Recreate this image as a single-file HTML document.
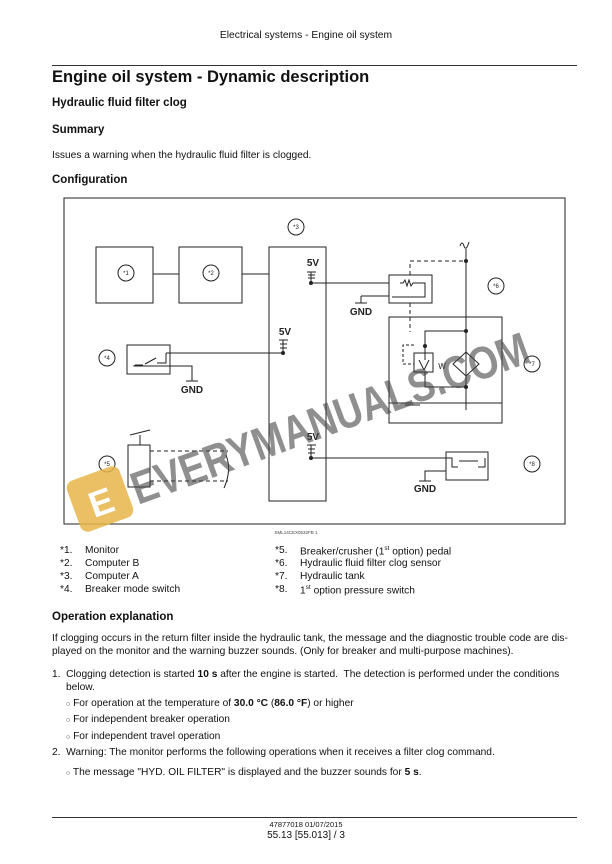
<!DOCTYPE html>
<html><head><meta charset="utf-8"><style>
body{margin:0;background:#fff;}
#p{position:relative;width:612px;height:864px;font-family:"Liberation Sans",Arial,sans-serif;color:#111;overflow:hidden}
.t{position:absolute;white-space:nowrap;font-size:10.2px}
.b{font-weight:bold}
</style></head><body><div id="p">
<div class="t" style="left:0;width:612px;text-align:center;top:30px;font-size:10.3px">Electrical systems - Engine oil system</div>
<div style="position:absolute;left:52px;top:65px;width:525px;height:1px;background:#333"></div>
<div class="t b" style="left:52px;top:68px;font-size:16.5px">Engine oil system - Dynamic description</div>
<div class="t b" style="left:52px;top:97px;font-size:11.5px">Hydraulic fluid filter clog</div>
<div class="t b" style="left:52px;top:124px;font-size:11.5px">Summary</div>
<div class="t" style="left:52px;top:150px">Issues a warning when the hydraulic fluid filter is clogged.</div>
<div class="t b" style="left:52px;top:174px;font-size:11.5px">Configuration</div>

<svg style="position:absolute;left:0;top:0" width="612" height="864" font-family="Liberation Sans, Arial, sans-serif">
<g fill="none" stroke="#222" stroke-width="1">
<rect x="64" y="198" width="501" height="326"/>
<rect x="96" y="247" width="57" height="56"/>
<rect x="179" y="247" width="63" height="56"/>
<rect x="269" y="247" width="57" height="254"/>
<line x1="153" y1="274" x2="179" y2="274"/><line x1="242" y1="274" x2="269" y2="274"/>
<circle cx="126" cy="273" r="8"/><circle cx="211" cy="273" r="8"/><circle cx="296" cy="227" r="8"/>
<circle cx="107" cy="358" r="8"/><circle cx="107" cy="464" r="8"/>
<circle cx="496" cy="286" r="8"/><circle cx="532" cy="364" r="8"/><circle cx="532" cy="464" r="8"/>
<line x1="311" y1="272" x2="311" y2="283"/>
<line x1="307" y1="272" x2="316" y2="272"/><line x1="308" y1="275" x2="315" y2="275"/><line x1="308" y1="278" x2="315" y2="278"/>
<line x1="311" y1="283" x2="389" y2="283"/>
<rect x="389" y="275" width="43" height="28"/>
<polyline points="400,283 403,283 405,280 407,286 409,280 411,286 413,283 425,283 425,297 392,297"/>
<line x1="389" y1="296" x2="361" y2="296"/><line x1="361" y1="296" x2="361" y2="303"/><line x1="355" y1="303" x2="367" y2="303"/>
<polyline points="410,275 410,261 466,261" stroke-dasharray="4,3"/>
<line x1="410" y1="303" x2="410" y2="332" stroke-dasharray="4,3"/>
<line x1="466" y1="249" x2="466" y2="410"/>
<path d="M460 246 q2 -6 4 0 q2 6 5 -4"/>
<rect x="389" y="317" width="113" height="106"/>
<line x1="389" y1="403" x2="502" y2="403"/>
<polyline points="425,360 425,331 466,331"/>
<rect x="414" y="353" width="19" height="19"/>
<polyline points="414,345 403,345 403,364 414,364" stroke-dasharray="3,2"/>
<line x1="419" y1="360" x2="424" y2="370"/><line x1="429" y1="360" x2="424" y2="370"/>
<polygon points="466,352 479,364 466,376 453,364"/>
<polyline points="425,372 425,387 466,387"/>
<line x1="405" y1="405" x2="420" y2="405"/>
<rect x="127" y="345" width="43" height="29"/>
<polyline points="135,365 143,365"/><line x1="145" y1="364" x2="156" y2="358"/><polyline points="157,363 166,363 166,353"/>
<line x1="166" y1="353" x2="285" y2="353"/>
<polyline points="134,365 134,366 170,366 192,366 192,381"/>
<line x1="186" y1="381" x2="198" y2="381"/>
<line x1="283" y1="340" x2="283" y2="353"/>
<line x1="279" y1="340" x2="288" y2="340"/><line x1="280" y1="344" x2="287" y2="344"/><line x1="280" y1="348" x2="287" y2="348"/>
<rect x="128" y="445" width="22" height="42"/>
<line x1="140" y1="445" x2="140" y2="435"/><line x1="130" y1="435" x2="150" y2="430"/>
<line x1="150" y1="451" x2="228" y2="451" stroke-dasharray="4,3"/>
<line x1="150" y1="481" x2="228" y2="481" stroke-dasharray="4,3"/>
<path d="M226 455 q6 15 -2 33"/>
<line x1="311" y1="445" x2="311" y2="458"/>
<line x1="307" y1="445" x2="316" y2="445"/><line x1="308" y1="449" x2="315" y2="449"/><line x1="308" y1="453" x2="315" y2="453"/>
<line x1="311" y1="458" x2="446" y2="458"/>
<rect x="446" y="452" width="42" height="28"/>
<polyline points="446,458 452,458 452,467 458,467"/><line x1="459" y1="461" x2="478" y2="461"/><polyline points="478,467 485,467 485,458"/>
<polyline points="446,471 425,471 425,481"/><line x1="419" y1="481" x2="431" y2="481"/>
</g>
<g fill="#222"><circle cx="311" cy="283" r="2"/><circle cx="283" cy="353" r="2"/><circle cx="311" cy="458" r="2"/>
<circle cx="466" cy="261" r="2"/><circle cx="466" cy="331" r="2"/><circle cx="466" cy="387" r="2"/><circle cx="425" cy="346" r="2"/></g>
<g font-size="6" text-anchor="middle" fill="#222">
<text x="126" y="275">*1</text><text x="211" y="275">*2</text><text x="296" y="229">*3</text><text x="107" y="360">*4</text>
<text x="107" y="466">*5</text><text x="496" y="288">*6</text><text x="532" y="366">*7</text><text x="532" y="466">*8</text>
</g>
<g font-size="10" font-weight="bold" text-anchor="middle" fill="#222">
<text x="313" y="266">5V</text><text x="285" y="335">5V</text><text x="313" y="440">5V</text>
<text x="361" y="315">GND</text><text x="192" y="393">GND</text><text x="425" y="492">GND</text>
<text x="442" y="369" font-size="8" font-weight="normal">W</text>
</g>
<text x="296" y="534" font-size="4.5" text-anchor="middle" fill="#444">SML14CEX0532FB    1</text>
<text x="138" y="505" transform="rotate(-20 138 505)" font-size="46" font-weight="bold" fill="#444" fill-opacity="0.6" textLength="420" lengthAdjust="spacingAndGlyphs">EVERYMANUALS.COM</text>
<rect x="72" y="472" width="56" height="54" rx="8" fill="#e8b54a" opacity="0.85" transform="rotate(-20 100 499)"/>
<text x="88" y="515" font-size="36" font-weight="bold" fill="#fff" transform="rotate(-20 100 499)">E</text>
</svg>

<div class="t" style="left:60px;top:545px">*1.</div><div class="t" style="left:85px;top:545px">Monitor</div>
<div class="t" style="left:60px;top:558px">*2.</div><div class="t" style="left:85px;top:558px">Computer B</div>
<div class="t" style="left:60px;top:571px">*3.</div><div class="t" style="left:85px;top:571px">Computer A</div>
<div class="t" style="left:60px;top:584px">*4.</div><div class="t" style="left:85px;top:584px">Breaker mode switch</div>
<div class="t" style="left:275px;top:545px">*5.</div><div class="t" style="left:300px;top:545px">Breaker/crusher (1<sup style="font-size:6.5px">st</sup> option) pedal</div>
<div class="t" style="left:275px;top:558px">*6.</div><div class="t" style="left:300px;top:558px">Hydraulic fluid filter clog sensor</div>
<div class="t" style="left:275px;top:571px">*7.</div><div class="t" style="left:300px;top:571px">Hydraulic tank</div>
<div class="t" style="left:275px;top:584px">*8.</div><div class="t" style="left:300px;top:584px">1<sup style="font-size:6.5px">st</sup> option pressure switch</div>

<div class="t b" style="left:52px;top:611px;font-size:11.5px">Operation explanation</div>
<div class="t" style="left:52px;top:633px">If clogging occurs in the return filter inside the hydraulic tank, the message and the diagnostic trouble code are dis-</div>
<div class="t" style="left:52px;top:646px">played on the monitor and the warning buzzer sounds. (Only for breaker and multi-purpose machines).</div>
<div class="t" style="left:52px;top:669px">1.&nbsp; Clogging detection is started <b>10 s</b> after the engine is started.&nbsp; The detection is performed under the conditions</div>
<div class="t" style="left:66px;top:682px">below.</div>
<div class="t" style="left:66px;top:698px"><span style="font-size:7px">○</span> For operation at the temperature of <b>30.0 °C</b> (<b>86.0 °F</b>) or higher</div>
<div class="t" style="left:66px;top:714px"><span style="font-size:7px">○</span> For independent breaker operation</div>
<div class="t" style="left:66px;top:731px"><span style="font-size:7px">○</span> For independent travel operation</div>
<div class="t" style="left:52px;top:747px">2.&nbsp; Warning: The monitor performs the following operations when it receives a filter clog command.</div>
<div class="t" style="left:66px;top:767px"><span style="font-size:7px">○</span> The message "HYD. OIL FILTER" is displayed and the buzzer sounds for <b>5 s</b>.</div>

<div style="position:absolute;left:52px;top:817px;width:525px;height:1px;background:#333"></div>
<div class="t" style="left:0;width:612px;text-align:center;top:820px;font-size:7.5px">47877018 01/07/2015</div>
<div class="t" style="left:0;width:612px;text-align:center;top:830px;font-size:10px">55.13 [55.013] / 3</div>
</div></body></html>
